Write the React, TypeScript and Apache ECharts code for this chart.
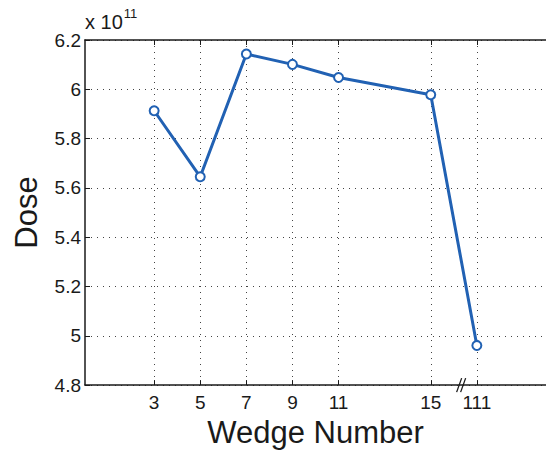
import React, { useEffect, useRef } from "react";
import * as echarts from "echarts";

// Positions on the axis (0..20), their printed wedge labels, and dose values (x 1e11)
const axisPositions = Array.from({ length: 21 }, (_, i) => String(i));
const wedgePositions = [3, 5, 7, 9, 11, 15, 17];
const wedgeLabels = ["3", "5", "7", "9", "11", "15", "111"];
const doseValues = [5.913, 5.645, 6.143, 6.101, 6.048, 5.978, 4.961];
const yMin = 4.8;
const yMax = 6.2;
const yStep = 0.2;
const breakBetween = [15, 17];

const FONT = "Liberation Sans, Arial, Helvetica, sans-serif";

export default function App() {
  const ref = useRef<HTMLDivElement>(null);
  useEffect(() => {
    if (!ref.current) return;
    const chart = echarts.init(ref.current, null, { renderer: "svg" });
    const labelMap: Record<number, string> = {};
    wedgePositions.forEach((p, i) => (labelMap[p] = wedgeLabels[i]));
    const isTick = (idx: number) => wedgePositions.includes(idx);
    const axisLineStyle = { color: "#1a1a1a", width: 1.5 };
    chart.setOption({
      animation: false,
      backgroundColor: "#ffffff",
      grid: { left: 85, top: 40, width: 462, height: 353, containLabel: false },
      xAxis: [
        {
          type: "category",
          data: axisPositions,
          boundaryGap: false,
          position: "bottom",
          axisLine: { show: true, lineStyle: axisLineStyle },
          axisTick: { show: true, inside: true, length: 5, interval: (i: number) => isTick(i), lineStyle: { color: "#1a1a1a", width: 1 } },
          axisLabel: {
            interval: (i: number) => isTick(i),
            formatter: (_v: string, i: number) => labelMap[i] ?? "",
            color: "#1a1a1a",
            fontFamily: FONT,
            fontSize: 19,
            margin: 8,
          },
          splitLine: { show: true, interval: (i: number) => isTick(i), lineStyle: { color: "#444", width: 1, type: [1, 5] } },
          name: "Wedge Number",
          nameLocation: "middle",
          nameGap: 25,
          nameTextStyle: { fontFamily: FONT, fontSize: 31, color: "#1a1a1a" },
        },
        {
          type: "category",
          data: axisPositions,
          boundaryGap: false,
          position: "top",
          axisLine: { show: true, lineStyle: axisLineStyle },
          axisTick: { show: true, inside: true, length: 5, interval: (i: number) => isTick(i), lineStyle: { color: "#1a1a1a", width: 1 } },
          axisLabel: { show: false },
          splitLine: { show: false },
        },
      ],
      yAxis: [
        {
          type: "value",
          min: yMin,
          max: yMax,
          interval: yStep,
          axisLine: { show: true, lineStyle: axisLineStyle },
          axisTick: { show: true, inside: true, length: 5, lineStyle: { color: "#1a1a1a", width: 1 } },
          axisLabel: {
            formatter: (v: number) => String(+v.toFixed(1)),
            color: "#1a1a1a",
            fontFamily: FONT,
            fontSize: 19,
            margin: 4,
          },
          splitLine: { show: true, lineStyle: { color: "#444", width: 1, type: [1, 5] } },
          name: "Dose",
          nameLocation: "middle",
          nameGap: 43,
          nameRotate: 90,
          nameTextStyle: { fontFamily: FONT, fontSize: 31, color: "#1a1a1a" },
        },
      ],
      series: [
        {
          type: "line",
          data: wedgePositions.map((p, i) => [p, doseValues[i]]),
          xAxisIndex: 0,
          yAxisIndex: 0,
          symbol: "emptyCircle",
          symbolSize: 9,
          showSymbol: true,
          lineStyle: { color: "#2161b3", width: 3 },
          itemStyle: { color: "#2161b3", borderColor: "#2161b3", borderWidth: 2.5 },
          z: 5,
        },
      ],
    });
    const a = chart.convertToPixel({ xAxisIndex: 0 }, breakBetween[0]) as number;
    const b = chart.convertToPixel({ xAxisIndex: 0 }, breakBetween[1]) as number;
    const y0 = chart.convertToPixel({ yAxisIndex: 0 }, yMin) as number;
    const bx = a + (b - a) * 0.67;
    chart.setOption({
      graphic: [
        {
          type: "text",
          left: 85,
          top: 7,
          style: {
            text: "{b|x 10}{s|11}",
            rich: {
              b: { fontFamily: FONT, fontSize: 20, fill: "#1a1a1a", verticalAlign: "bottom" },
              s: { fontFamily: FONT, fontSize: 13, fill: "#1a1a1a", verticalAlign: "top", padding: [0, 0, 12, 1] },
            },
          },
        },
        {
          type: "line",
          shape: { x1: bx - 5, y1: y0 + 7, x2: bx, y2: y0 - 7 },
          style: { stroke: "#1a1a1a", lineWidth: 1.3 },
          z: 10,
        },
        {
          type: "line",
          shape: { x1: bx - 1, y1: y0 + 7, x2: bx + 4, y2: y0 - 7 },
          style: { stroke: "#1a1a1a", lineWidth: 1.3 },
          z: 10,
        },
      ],
    });
    return () => chart.dispose();
  }, []);
  return <div ref={ref} style={{ position: "fixed", left: 0, top: 0, width: 546, height: 453 }} />;
}
